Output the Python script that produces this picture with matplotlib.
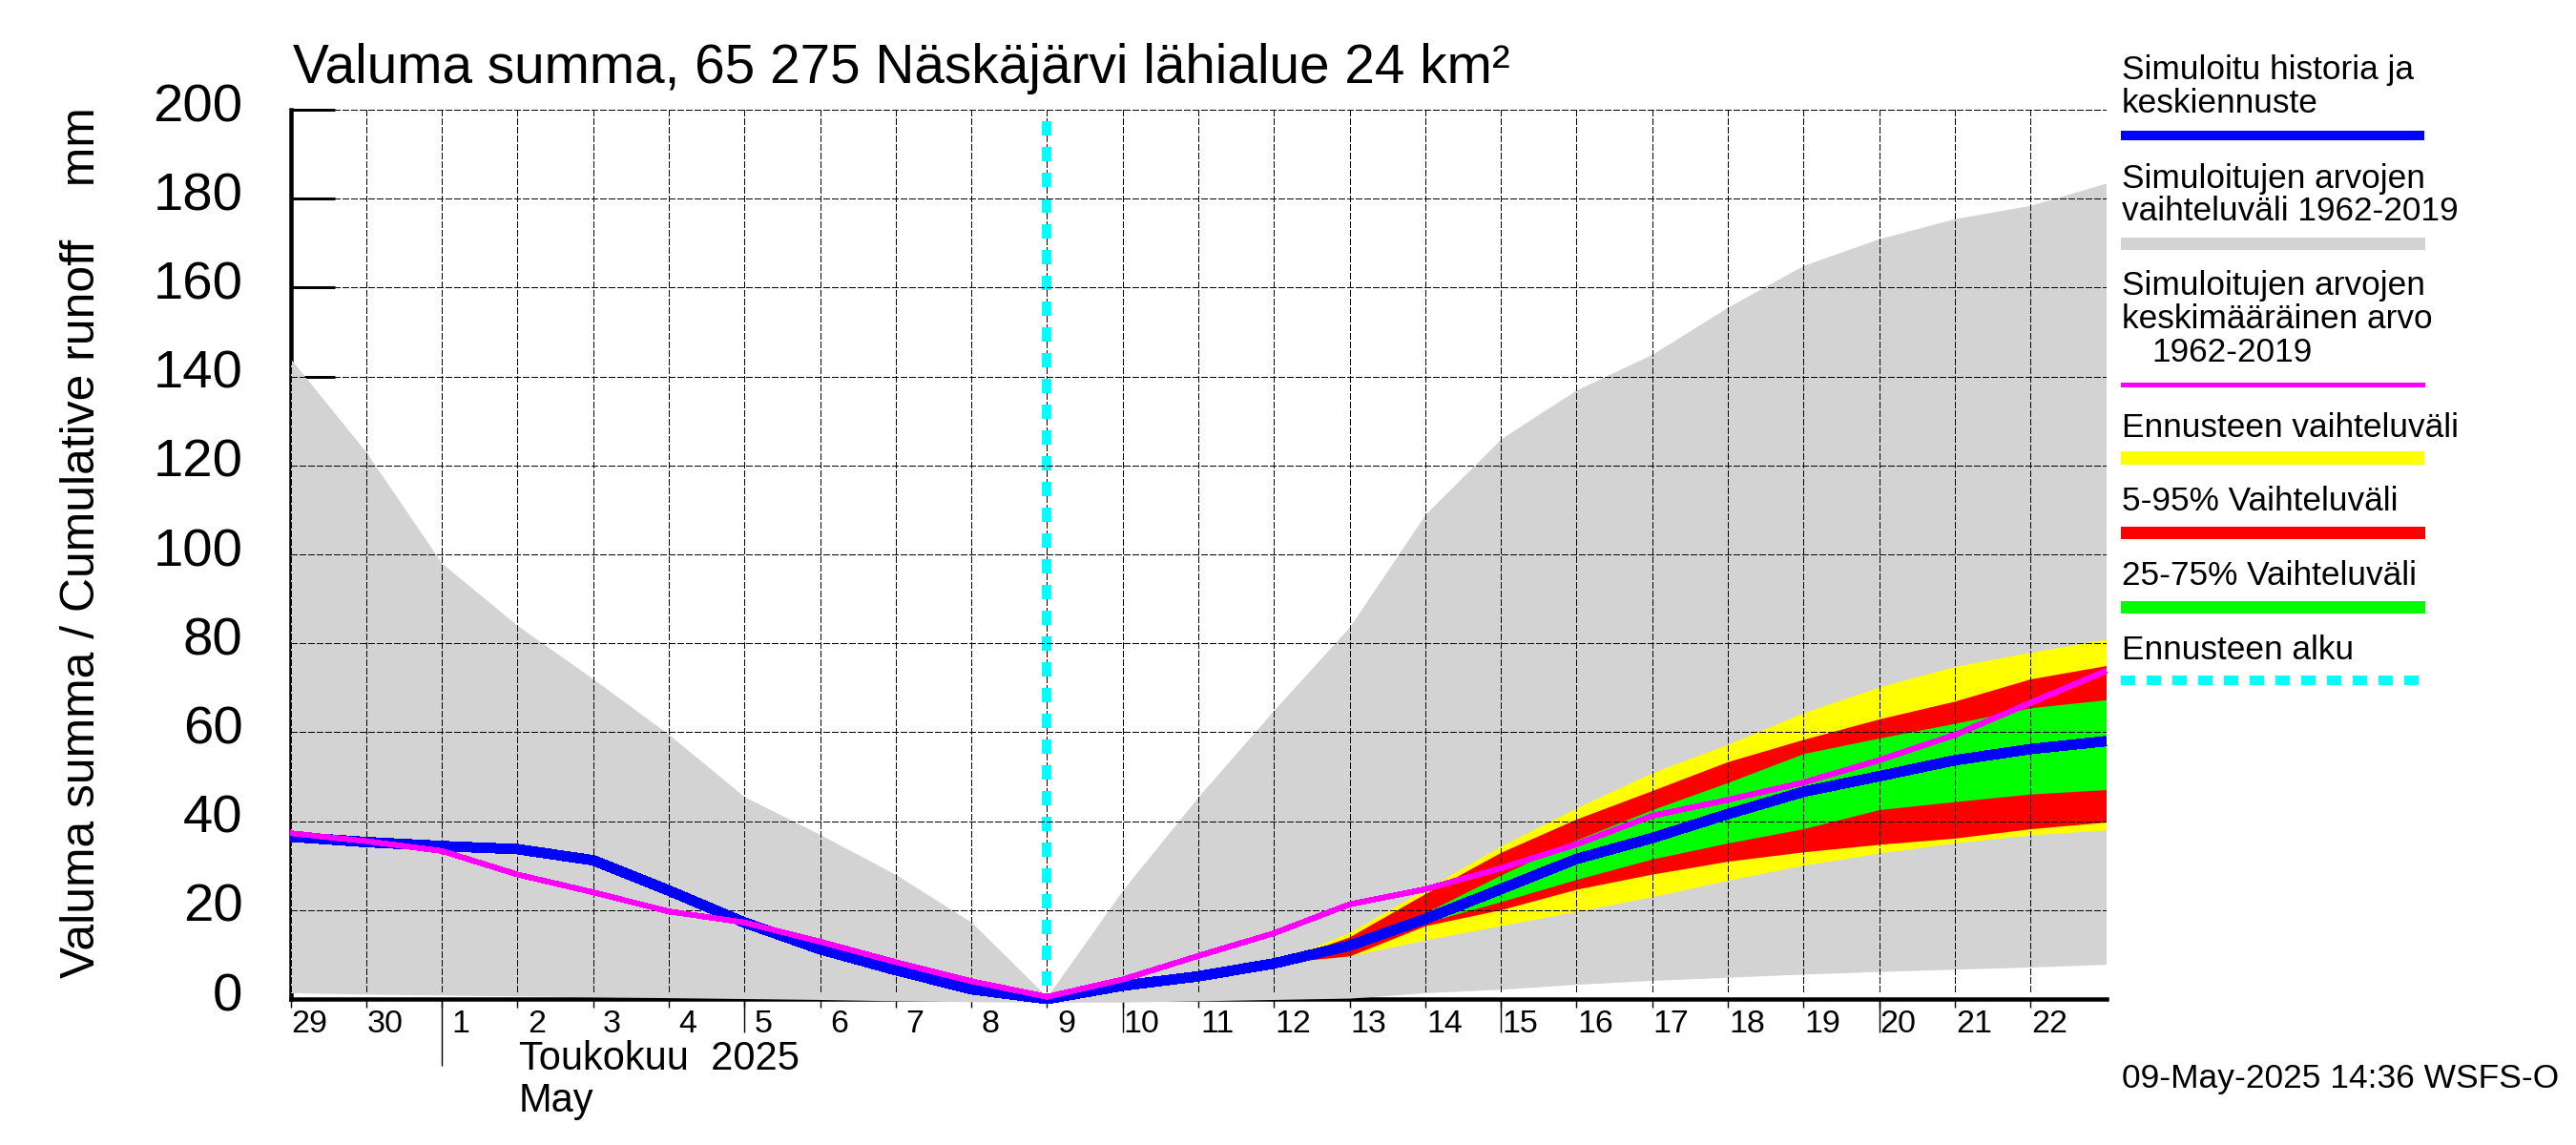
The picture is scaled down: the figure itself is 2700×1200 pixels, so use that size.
import matplotlib
matplotlib.use('Agg')
import matplotlib.pyplot as plt
from matplotlib.lines import Line2D
from matplotlib.transforms import ScaledTranslation

plt.rcParams['font.family'] = ['Liberation Sans', 'DejaVu Sans']
plt.rcParams['lines.scale_dashes'] = False

# days counted from 29 April, 10 = forecast start (9 May)
days = list(range(25))
day_labels = ['29', '30'] + [str(d) for d in range(1, 23)]
y_ticks = list(range(0, 201, 20))

sim_max = [144, 123, 98, 84, 72, 59.5, 45.5, 37, 28, 17.3, 0.5, 24.5, 45.5, 65, 83.7,
           109, 126, 137, 145, 155.6, 165, 171, 175.5, 178.5, 183.5]
sim_min = [1.4, 1.1, 0.9, 0.7, 0.5, 0.3, 0.1, -0.1, -0.4, -0.6, -0.7, -0.7, -0.4, -0.1, 0.2,
           1.4, 2.2, 3.3, 4.2, 4.9, 5.6, 6.2, 6.7, 7.2, 7.8]
sim_mean = [37.3, 35.5, 33.3, 28, 24, 19.7, 17.2, 12.9, 8.3, 4, 0.5, 4.4, 9.7, 14.8, 21.3,
            24.7, 29.4, 34.8, 41.2, 44.8, 48.7, 53.7, 59.4, 66.6, 73.8]
history = [36.5, 35.3, 34.4, 33.7, 31.2, 24.4, 17.2, 11.2, 6.5, 2.2, 0, 3, 5.1, 8, 12,
           18, 24.7, 31.5, 36.2, 41.6, 46.6, 50.1, 53.7, 56.2, 58]

fc_days = list(range(13, 25))
yellow_up = [8, 15, 24.7, 34.4, 43, 50.9, 57.3, 64.4, 70.2, 74.8, 78, 80.9]
yellow_lo = [8, 9.7, 13.3, 16.5, 19.7, 23, 26.7, 30.1, 32.8, 35.1, 36.9, 38]
red_up = [8, 14, 23.7, 33, 40.5, 46.9, 53.4, 58.4, 63, 67, 72, 75]
red_lo = [8, 9.7, 16.5, 20.1, 24.7, 28.1, 31, 33.1, 34.8, 36.2, 38.3, 39.8]
green_up = [8, 12.2, 19.4, 27.9, 35.8, 42.6, 48.7, 55.2, 58.7, 62, 65.5, 67.3]
green_lo = [8, 12, 17.2, 21.9, 26.9, 31.5, 35.1, 38.3, 42.6, 44.4, 46.1, 47.1]

W, H = 2700, 1200
fig = plt.figure(figsize=(27, 12), dpi=100)
ax = fig.add_axes([304.5 / W, 1 - 1047 / H, 1903 / W, 932 / H])
ax.set_xlim(0, 24)
ax.set_ylim(0, 200)


def px(v):
    # pixels to points at dpi 100
    return v * 0.72


for s in ['top', 'right']:
    ax.spines[s].set_visible(False)
ax.spines['left'].set_linewidth(px(4.5))
ax.spines['bottom'].set_linewidth(px(4.5))
ax.spines['left'].set_zorder(1)
ax.spines['bottom'].set_zorder(1)

# ticks: inward on y, day ticks on x, longer ones drawn below
ax.set_yticks(y_ticks)
ax.set_yticklabels([str(v) for v in y_ticks], fontsize=40.5)
ax.tick_params(axis='y', direction='in', length=px(46), width=px(3), pad=px(50), zorder=1)
ax.set_xticks(days[:-1])
ax.set_xticklabels(day_labels, fontsize=24.5)
ax.tick_params(axis='x', direction='out', length=px(9), width=px(1.4), pad=px(2))
for t in ax.get_yticklabels():
    t.set_transform(t.get_transform() + ScaledTranslation(0, 8 / 100, fig.dpi_scale_trans))
for t in ax.get_xticklabels():
    t.set_transform(t.get_transform() + ScaledTranslation(20 / 100, 0, fig.dpi_scale_trans))
ax.vlines([6, 11, 16, 21], -7.5, 0, color='black', lw=px(1.4), clip_on=False, zorder=1)
ax.vlines([2], -15, 0, color='black', lw=px(1.4), clip_on=False, zorder=1)

grid_dash = (0, (px(6.5), px(2.8)))

# forecast start goes over its grid line but under the grey band
ax.vlines([10], 1.8, 200, color='black', lw=px(1.2), ls=grid_dash, zorder=1.5, antialiased=False)
ax.plot([10, 10], [197.4, 0], color='#00ffff', lw=px(10), ls=(0, (px(15), px(13))),
        dash_capstyle='butt', zorder=1.8, antialiased=False)

ax.fill_between(days, sim_min, sim_max, color='#d3d3d3', lw=0, zorder=2, clip_on=False, antialiased=False)
ax.fill_between(fc_days, yellow_lo, yellow_up, color='#ffff00', lw=0, zorder=3, antialiased=False)
ax.fill_between(fc_days, red_lo, red_up, color='#ff0000', lw=0, zorder=3.1, antialiased=False)
ax.fill_between(fc_days, green_lo, green_up, color='#00ff00', lw=0, zorder=3.2, antialiased=False)

# grid
grid_days = [d for d in days if d != 10]
ax.vlines(grid_days, 1.8, 200, color='black', lw=px(1.2), ls=grid_dash, zorder=4, antialiased=False)
ax.hlines(y_ticks[1:], 0, 24, color='black', lw=px(1.2), ls=grid_dash, zorder=4, antialiased=False)

ax.plot(days, history, color='#0000ff', lw=px(10), zorder=5, clip_on=False,
        solid_joinstyle='miter', solid_capstyle='butt', antialiased=False)
ax.plot(days, sim_mean, color='#ff00ff', lw=px(5), zorder=6, clip_on=False,
        solid_joinstyle='miter', solid_capstyle='butt', antialiased=False)


def ftext(x, y, s, size, **kw):
    # x, y in reference pixels, y is the text baseline
    fig.text(x / W, 1 - y / H, s, fontsize=size, va='baseline', ha='left', **kw)


ftext(307, 87, 'Valuma summa, 65 275 Näskäjärvi lähialue 24 km²', 40.85)
ftext(99, 1025, 'Valuma summa / Cumulative runoff    mm', 35.8, rotation=90, rotation_mode='anchor')
ftext(544, 1121, 'Toukokuu  2025', 30)
ftext(544, 1165, 'May', 30)
ftext(2224, 1140, '09-May-2025 14:36 WSFS-O', 25.5)

legend_text = [
    (2224, 83, 'Simuloitu historia ja'),
    (2224, 118, 'keskiennuste'),
    (2224, 197, 'Simuloitujen arvojen'),
    (2224, 231, 'vaihteluväli 1962-2019'),
    (2224, 309, 'Simuloitujen arvojen'),
    (2224, 344, 'keskimääräinen arvo'),
    (2255, 379, '1962-2019'),
    (2224, 458, 'Ennusteen vaihteluväli'),
    (2224, 535, '5-95% Vaihteluväli'),
    (2224, 613, '25-75% Vaihteluväli'),
    (2224, 691, 'Ennusteen alku'),
]
for x, y, s in legend_text:
    ftext(x, y, s, 25.4)

legend_bars = [
    (142, '#0000ff', 10),
    (254.5, '#d3d3d3', 13),
    (402.5, '#ff00ff', 5),
    (480, '#ffff00', 14),
    (557.5, '#ff0000', 13),
    (635.5, '#00ff00', 13),
]
for y, col, w in legend_bars:
    fig.add_artist(Line2D([2223 / W, 2541 / W], [1 - y / H, 1 - y / H], color=col, lw=px(w),
                          solid_capstyle='butt', antialiased=False))
fig.add_artist(Line2D([2223 / W, 2541 / W], [1 - 713 / H, 1 - 713 / H], color='#00ffff', lw=px(10),
                      ls=(0, (px(15), px(13))), dash_capstyle='butt', antialiased=False))

fig.savefig('out.png', dpi=100)
